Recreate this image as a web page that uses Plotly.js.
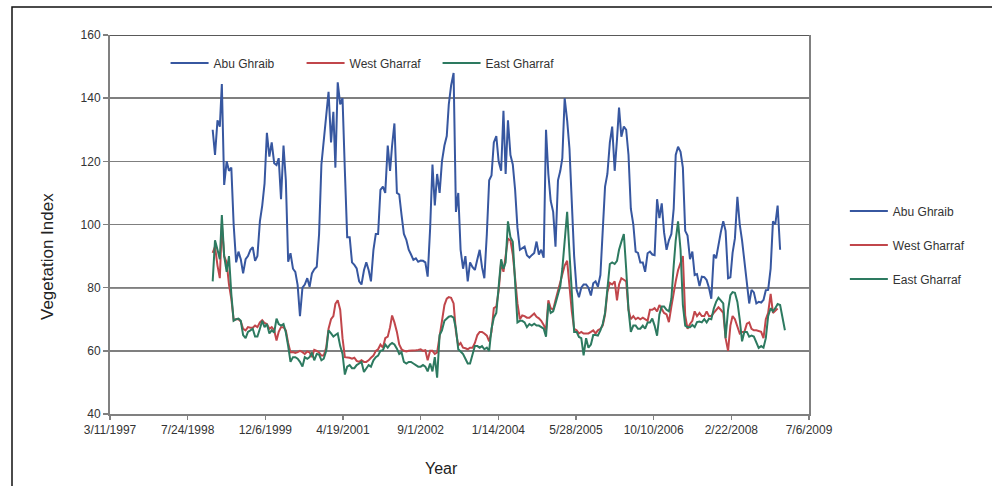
<!DOCTYPE html>
<html>
<head>
<meta charset="utf-8">
<script src="https://cdn.plot.ly/plotly-3.0.1.min.js"></script>
<style>
  html, body { margin: 0; padding: 0; background: #ffffff; }
  #chart { width: 992px; height: 486px; }
</style>
</head>
<body>
<div id="chart"></div>
<script>
// Sampling dates: the 1st and 16th of each month, 1999 through early 2009
const dates = [
  '1999-01-01','1999-01-16','1999-02-01','1999-02-16','1999-03-01','1999-03-16','1999-04-01','1999-04-16','1999-05-01','1999-05-16','1999-06-01','1999-06-16',
  '1999-07-01','1999-07-16','1999-08-01','1999-08-16','1999-09-01','1999-09-16','1999-10-01','1999-10-16','1999-11-01','1999-11-16','1999-12-01','1999-12-16',
  '2000-01-01','2000-01-16','2000-02-01','2000-02-16','2000-03-01','2000-03-16','2000-04-01','2000-04-16','2000-05-01','2000-05-16','2000-06-01','2000-06-16',
  '2000-07-01','2000-07-16','2000-08-01','2000-08-16','2000-09-01','2000-09-16','2000-10-01','2000-10-16','2000-11-01','2000-11-16','2000-12-01','2000-12-16',
  '2001-01-01','2001-01-16','2001-02-01','2001-02-16','2001-03-01','2001-03-16','2001-04-01','2001-04-16','2001-05-01','2001-05-16','2001-06-01','2001-06-16',
  '2001-07-01','2001-07-16','2001-08-01','2001-08-16','2001-09-01','2001-09-16','2001-10-01','2001-10-16','2001-11-01','2001-11-16','2001-12-01','2001-12-16',
  '2002-01-01','2002-01-16','2002-02-01','2002-02-16','2002-03-01','2002-03-16','2002-04-01','2002-04-16','2002-05-01','2002-05-16','2002-06-01','2002-06-16',
  '2002-07-01','2002-07-16','2002-08-01','2002-08-16','2002-09-01','2002-09-16','2002-10-01','2002-10-16','2002-11-01','2002-11-16','2002-12-01','2002-12-16',
  '2003-01-01','2003-01-16','2003-02-01','2003-02-16','2003-03-01','2003-03-16','2003-04-01','2003-04-16','2003-05-01','2003-05-16','2003-06-01','2003-06-16',
  '2003-07-01','2003-07-16','2003-08-01','2003-08-16','2003-09-01','2003-09-16','2003-10-01','2003-10-16','2003-11-01','2003-11-16','2003-12-01','2003-12-16',
  '2004-01-01','2004-01-16','2004-02-01','2004-02-16','2004-03-01','2004-03-16','2004-04-01','2004-04-16','2004-05-01','2004-05-16','2004-06-01','2004-06-16',
  '2004-07-01','2004-07-16','2004-08-01','2004-08-16','2004-09-01','2004-09-16','2004-10-01','2004-10-16','2004-11-01','2004-11-16','2004-12-01','2004-12-16',
  '2005-01-01','2005-01-16','2005-02-01','2005-02-16','2005-03-01','2005-03-16','2005-04-01','2005-04-16','2005-05-01','2005-05-16','2005-06-01','2005-06-16',
  '2005-07-01','2005-07-16','2005-08-01','2005-08-16','2005-09-01','2005-09-16','2005-10-01','2005-10-16','2005-11-01','2005-11-16','2005-12-01','2005-12-16',
  '2006-01-01','2006-01-16','2006-02-01','2006-02-16','2006-03-01','2006-03-16','2006-04-01','2006-04-16','2006-05-01','2006-05-16','2006-06-01','2006-06-16',
  '2006-07-01','2006-07-16','2006-08-01','2006-08-16','2006-09-01','2006-09-16','2006-10-01','2006-10-16','2006-11-01','2006-11-16','2006-12-01','2006-12-16',
  '2007-01-01','2007-01-16','2007-02-01','2007-02-16','2007-03-01','2007-03-16','2007-04-01','2007-04-16','2007-05-01','2007-05-16','2007-06-01','2007-06-16',
  '2007-07-01','2007-07-16','2007-08-01','2007-08-16','2007-09-01','2007-09-16','2007-10-01','2007-10-16','2007-11-01','2007-11-16','2007-12-01','2007-12-16',
  '2008-01-01','2008-01-16','2008-02-01','2008-02-16','2008-03-01','2008-03-16','2008-04-01','2008-04-16','2008-05-01','2008-05-16','2008-06-01','2008-06-16',
  '2008-07-01','2008-07-16','2008-08-01','2008-08-16','2008-09-01','2008-09-16','2008-10-01','2008-10-16','2008-11-01','2008-11-16','2008-12-01','2008-12-16',
  '2009-01-01','2009-01-16','2009-02-01'
];

// Vegetation index, one row per year (24 half-month values)
const abuGhraib = [
  130,122,133,131,144.5,112.5,120,117,118,100,88,91.4,89,84.5,89,90,92,92.8,88.5,90,101,106,113,129,
  121.5,126,119.4,118.8,121,108,125,114,88.2,90.9,86,85,80.8,71,80,81,83,80.3,84.5,85.8,86.6,97,119,126,
  133,142,126,135.7,118,145,138,140,117,96,96,88,87.2,86.1,82,81,85.5,88,85.6,82,92,97,97,111,
  112,110,125,117,125,132,110,109.5,103,97,95.1,92,90.5,88.8,89.3,88.2,88.6,88.5,88,83.5,98.8,119,106,116,
  110,120,125,128,138,144,148,104,110,92,86,90,82,88,86.5,85.6,89,92,86.5,83,97,114,115.5,126,
  128,120,117,136,116,133,122,119,111,99,92,92.5,93,90.3,89.5,90.3,91,94.6,90.5,92,89.5,130,116,107.5,
  104,93,114,117,121,140,133,124,107,90,79.3,77,80,81,81,80,77.5,81.4,82,80.3,84,99,112,116,
  126,131,117,127,137,127.8,131,130,122,105,100,91.4,91,88,88,85,90.9,91.4,90.5,90.3,108,102,106.7,97.5,
  92,95,97,105,122,124.6,123,118,98,96.5,89,91.4,84,84.3,80.5,83.5,83.3,82.4,80,76.5,90.5,89.3,94,97.5,
  101,98,83,83.3,91,95.6,108.8,100,95,89,81,75,79.3,78.5,75,75.5,75.3,76.1,79.2,79.3,86,101,100,106,
  92,null,null
];

const westGharraf = [
  91,93,87,83,100,90,88,81,76.5,69.7,70,70,69.3,67,66.5,67.5,67.3,67.3,68,67.5,69,69.7,68.8,68.5,
  67,67.5,66.5,63.3,66,67.5,67.5,66.5,62.5,59.5,59.6,59.3,59.6,60,59.6,59,59.8,59.5,58,60.3,60,59.5,58.5,58.5,
  61,67,70,71,74.9,76,73,64,58,58,57.8,57.5,57.8,56.8,56.5,57,56.5,56.5,57,57.8,58.5,60,60.5,62,
  61,64,64.5,67.5,71.2,69,66,62,60.5,60,59.8,60,60,60,60.2,60.3,60.5,60,60.2,57,60,60,59,59.5,
  65,70,74.5,76.5,77,76.8,75,66,61.7,62.5,61,60.8,60.5,61,61,62.5,65,66,66,65.5,64.8,63,66,73.5,
  74,79,88,85,90,95.5,95,90.5,83,75,70,71.2,71,70.5,70.5,71.2,71.8,70.8,70.3,69.5,68.2,66.5,76,73.5,
  73,76,79,81.5,84,87,88.5,80,72.5,67,66.5,65.5,66,65.5,65.5,65.5,66,66.5,65.5,66.5,67,68,71.5,78.6,
  81.5,81,82,76,81,83,82.5,82,73,70,71,70,70.5,70,70.5,70,69.5,73,73,73.5,72.5,74.5,73,72,
  71.5,69.1,74,79,82,85.5,88.1,90,71.2,67,68.5,69.5,72.5,71,72,71,71,72.5,71,71,72,72.8,73.8,73,
  72,64,60,68,71,70,68,65.5,66,66,68.6,69,67,66.5,66.5,66.3,66,64,70,72,78,72,72.8,73.4,
  null,null,null
];

const eastGharraf = [
  82,95,92,89,103,90,85,90,78,69.5,70,70.2,69.5,65,64,66,66.5,67,64.5,64.5,67,69.5,67.5,68.5,
  65.5,66.5,65.8,70.2,68.5,68,68.5,65.8,61.5,56.5,58,58,57.5,56.5,55,58,57.5,58,59.5,57,59,58.8,57,57.5,
  60,66.5,65.5,64.5,65,65.5,61.5,59,52.5,55,55.5,54.5,54.5,55.5,56,56.5,53.3,54.5,55.5,55,57,58,58.5,60,
  60.2,62,61,62,62.5,62,60.7,59,59.5,56.5,56,56.5,56.5,56,55.5,55,55,55.5,55,53.5,56,53.5,58,51.5,
  65,66.5,69.5,70.2,70.8,71,70.5,67,60.5,59.8,59,57.5,56,56,59,61.5,61.5,61,61.5,60.5,61,60,67,70.5,
  72,80,89,86,88,101,96,94.5,81,69,69.5,69.5,69,67.5,68.5,68,68.6,68,68,67.5,67,64.5,75,72,
  72.5,75,78,80.5,86,95,104,91,80,66,66,64.4,64,58.6,64,61,62,65,65,64.8,66.5,68.5,72,80.7,
  87.5,88,87.5,88.5,92,94.5,97,86,73,66,68,68,67,67,68,67,69,69,70.2,68,64.8,71.5,74,74,
  73,72.5,76.5,87,95,101,92,74.5,68,67.5,67.5,68.2,67.5,69.1,69.3,69,70,69,70.2,70,73.4,75.5,76.8,76,
  75,64,73,77.6,78.6,78.4,75.5,70,63,66,66,64.5,64.8,64.5,62.5,60.9,61.5,61,64,71,73.5,72.5,73.5,74.8,
  74.5,71,66.5
];

const seriesNames = ['Abu Ghraib', 'West Gharraf', 'East Gharraf'];
const seriesColors = ['#3757a0', '#c1464b', '#2d7a60'];

// Axis ticks every 500 days, labelled month/day/year
const xTickVals = ['1997-03-11','1998-07-24','1999-12-06','2001-04-19','2002-09-01',
                   '2004-01-14','2005-05-28','2006-10-10','2008-02-22','2009-07-06'];
const xTickText = ['3/11/1997','7/24/1998','12/6/1999','4/19/2001','9/1/2002',
                   '1/14/2004','5/28/2005','10/10/2006','2/22/2008','7/6/2009'];
const yTickVals = [40, 60, 80, 100, 120, 140, 160];

const FONT = 'Arial, "Liberation Sans", Helvetica, sans-serif';
const values = [abuGhraib, westGharraf, eastGharraf];

const traces = [];
// Data lines, listed in the legend inside the plot
values.forEach((v, i) => {
  traces.push({
    type: 'scatter', mode: 'lines', x: dates, y: v,
    name: seriesNames[i], legend: 'legend',
    connectgaps: false,
    line: { color: seriesColors[i], width: 2 },
    hoverinfo: 'x+y+name'
  });
});
// Same series again for the legend at the right
values.forEach((v, i) => {
  traces.push({
    type: 'scatter', mode: 'lines', x: [null], y: [null],
    name: seriesNames[i], legend: 'legend2', legendgroup: 'g' + i,
    line: { color: seriesColors[i], width: 2 },
    hoverinfo: 'skip'
  });
});

const layout = {
  width: 992, height: 486,
  margin: { l: 110, r: 183, t: 35, b: 72, pad: 0 },
  paper_bgcolor: '#ffffff', plot_bgcolor: '#ffffff',
  font: { family: FONT, size: 12, color: '#333333' },
  showlegend: true,
  xaxis: {
    type: 'date',
    range: ['1997-03-11', '2009-07-06'],
    tickmode: 'array', tickvals: xTickVals, ticktext: xTickText,
    ticks: 'outside', ticklen: 4, tickwidth: 1.5, tickcolor: '#808080',
    showline: true, linecolor: '#808080', linewidth: 2,
    showgrid: false, zeroline: false,
    tickfont: { family: FONT, size: 12, color: '#333333' },
    fixedrange: true
  },
  yaxis: {
    range: [40, 160],
    tickmode: 'array', tickvals: yTickVals,
    ticks: 'outside', ticklen: 5, tickwidth: 1.5, tickcolor: '#808080',
    showline: true, linecolor: '#808080', linewidth: 2, mirror: true,
    showgrid: true, gridcolor: '#7f7f7f', gridwidth: 1.5,
    zeroline: false,
    tickfont: { family: FONT, size: 12, color: '#333333' },
    fixedrange: true
  },
  legend: {
    orientation: 'h',
    x: 0.0795, xanchor: 'left',
    y: 0.926, yanchor: 'middle',
    entrywidth: 83, entrywidthmode: 'pixels',
    itemwidth: 38,
    bgcolor: 'rgba(0,0,0,0)',
    font: { family: FONT, size: 12, color: '#333333' }
  },
  legend2: {
    orientation: 'v',
    x: 1.0513, xanchor: 'left',
    y: 0.446, yanchor: 'middle',
    traceorder: 'grouped', tracegroupgap: 15,
    itemwidth: 38,
    bgcolor: 'rgba(0,0,0,0)',
    font: { family: FONT, size: 12, color: '#333333' }
  },
  shapes: [
    // darker rules at 80 and along the top of the plot
    { type: 'line', xref: 'paper', yref: 'y', x0: 0, x1: 1, y0: 80, y1: 80,
      line: { color: '#222222', width: 1.5 }, layer: 'below' },
    { type: 'line', xref: 'paper', yref: 'y', x0: 0, x1: 1, y0: 160, y1: 160,
      line: { color: '#222222', width: 1.5 }, layer: 'below' },
    // outer frame
    { type: 'rect', xref: 'paper', yref: 'paper',
      x0: -0.1402, x1: 1.3, y0: -0.3, y1: 1.0739,
      line: { color: '#111111', width: 1.5 }, fillcolor: 'rgba(0,0,0,0)', layer: 'above' }
  ],
  annotations: [
    { text: 'Vegetation Index', xref: 'paper', yref: 'paper',
      x: (47 - 110) / 699, y: 1 - (257 - 35) / 379,
      xanchor: 'center', yanchor: 'middle', textangle: -90, showarrow: false,
      font: { family: FONT, size: 17, color: '#222222' } },
    { text: 'Year', xref: 'paper', yref: 'paper',
      x: (441 - 110) / 699, y: -(468 - 414) / 379,
      xanchor: 'center', yanchor: 'middle', showarrow: false,
      font: { family: FONT, size: 16, color: '#222222' } }
  ]
};

Plotly.newPlot('chart', traces, layout, { displayModeBar: false, staticPlot: true });
</script>
</body>
</html>
